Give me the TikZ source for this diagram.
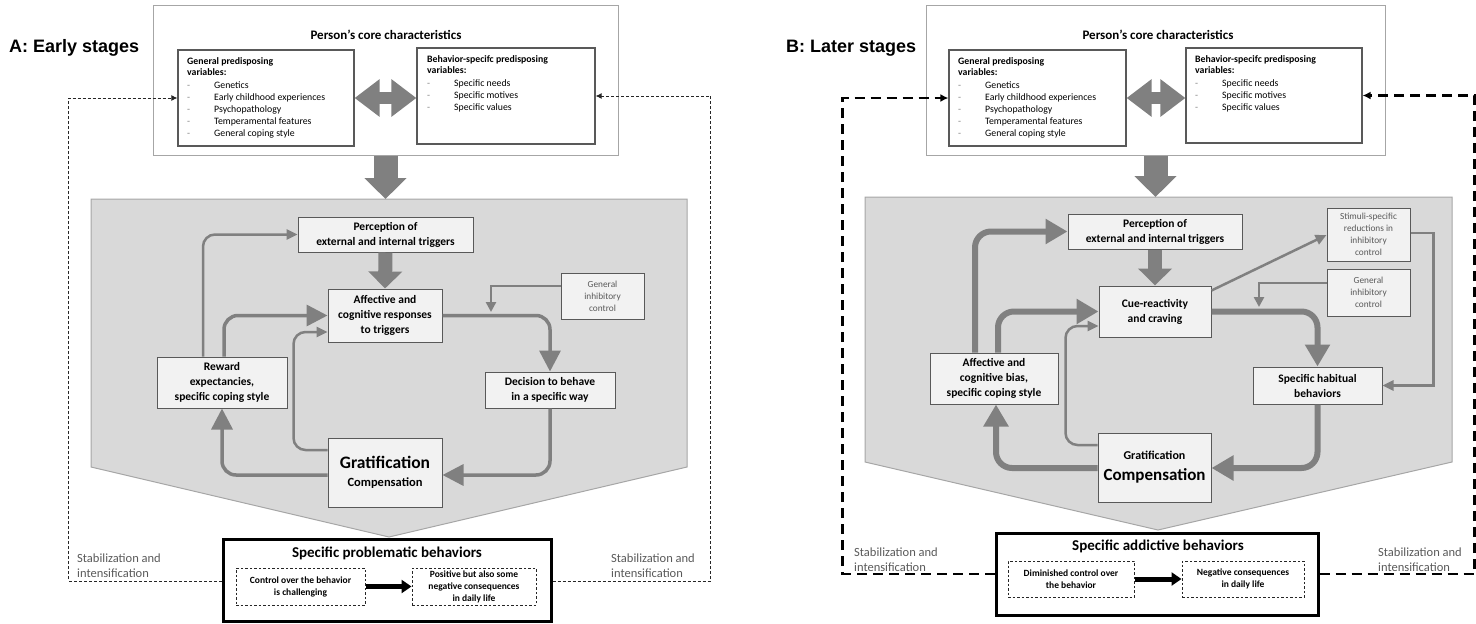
\documentclass[tikz,border=0pt]{standalone}
\usepackage{fontspec}
\setmainfont{Carlito}
\newfontfamily\titlefont{Liberation Sans}
\usetikzlibrary{arrows.meta,calc}
\definecolor{agray}{HTML}{808080}
\definecolor{regfill}{HTML}{D9D9D9}
\definecolor{regdraw}{HTML}{A6A6A6}
\definecolor{boxfill}{HTML}{F2F2F2}
\definecolor{boxdraw}{HTML}{595959}
\definecolor{txtgray}{HTML}{595959}
\newcommand\dashitem{\makebox[27pt][l]{\textcolor{gray}{-}}}
\tikzset{
 panel/.style={font=\titlefont\bfseries\fontsize{18}{20}\selectfont, anchor=west, inner sep=0},
 toptitle/.style={font=\bfseries\fontsize{13}{15}\selectfont, inner sep=0},
 topbox/.style={draw=regdraw, line width=1pt, fill=white, inner sep=0},
 predbox/.style={draw=boxdraw, line width=1.2pt, fill=white, inner sep=0},
 predtext/.style={anchor=north west, inner sep=0, align=left, font=\fontsize{9.8}{12}\selectfont},
 gbox/.style={draw=boxdraw, line width=1pt, fill=boxfill, inner sep=0, align=center, font=\bfseries\fontsize{11.5}{15}\selectfont},
 ctrlbox/.style={draw=boxdraw, line width=1pt, fill=boxfill, inner sep=0, align=center, text=txtgray, font=\fontsize{9.3}{12}\selectfont},
 outbox/.style={draw=black, line width=3pt, fill=white, inner sep=0},
 outtitle/.style={font=\bfseries\fontsize{15}{17}\selectfont, inner sep=0},
 dbox/.style={draw=black!85, dash pattern=on 2.5pt off 2pt, line width=1pt, fill=white, inner sep=0, align=center, font=\bfseries\fontsize{9.5}{12}\selectfont},
 region/.style={fill=regfill, draw=regdraw, line width=1pt},
 blockdown/.style={draw=agray, line width=24pt, -{Triangle[width=41pt,length=21pt]}},
 blockmid/.style={draw=agray, line width=14pt, -{Triangle[width=33pt,length=17pt]}},
 blockdouble/.style={draw=agray, line width=12pt, {Triangle[width=36pt,length=25pt]}-{Triangle[width=36pt,length=25pt]}},
 loopA/.style={draw=agray, line width=3.5pt, rounded corners=14pt, -{Triangle[width=21pt,length=21pt]}},
 thinA/.style={draw=agray, line width=2.5pt, rounded corners=12pt, -{Triangle[width=10pt,length=11pt]}},
 loopB/.style={draw=agray, line width=6pt, rounded corners=16pt, -{Triangle[width=24pt,length=22pt]}},
 thinB/.style={draw=agray, line width=2.5pt, rounded corners=12pt, -{Triangle[width=10pt,length=11pt]}},
 fbA/.style={draw=black!85, line width=1pt, dash pattern=on 3pt off 2pt, -{Latex[length=6pt,width=6pt]}},
 fbB/.style={draw=black, line width=2.5pt, dash pattern=on 10pt off 6pt, -{Latex[length=8pt,width=8pt]}},
 stab/.style={anchor=west, inner sep=0, align=left, text=txtgray, font=\fontsize{12.5}{15}\selectfont},
 blackarrow/.style={draw=black, line width=5pt, -{Triangle[width=13pt,length=10pt]}}
}
\begin{document}
\begin{tikzpicture}[x=1pt,y=-1pt]
\useasboundingbox (0,0) rectangle (1476,624);

% ================= PANEL A =================
\node[panel] (labA) at (9,48) {A: Early stages};
\node[topbox, minimum width=465pt, minimum height=150pt] (topA) at (385.5,80) {};
\node[toptitle] (ttlA) at (386,35) {Person's core characteristics};
\node[predbox, minimum width=176pt, minimum height=96pt] (genA) at (266,98) {};
\node[predtext] (genAt) at (187,57) {\textbf{General predisposing}\\[-1pt]\textbf{variables:}\\[1pt]\dashitem Genetics\\\dashitem Early childhood experiences\\\dashitem Psychopathology\\\dashitem Temperamental features\\\dashitem General coping style};
\node[predbox, minimum width=178pt, minimum height=96pt] (behA) at (506,96) {};
\node[predtext] (behAt) at (427,55) {\textbf{Behavior-specifc predisposing}\\[-1pt]\textbf{variables:}\\[1pt]\dashitem Specific needs\\\dashitem Specific motives\\\dashitem Specific values};
\draw[blockdouble] (genA.east) -- (genA.east -| behA.west);

\draw[region] (91,199) -- (687,199) -- (687,467) -- (389,537) -- (91,467) -- cycle;
\coordinate (rAtop) at (385.5,199);
\draw[blockdown] (topA.south) -- (rAtop);

\node[gbox, minimum width=175pt, minimum height=35pt] (percA) at (385.5,234.5) {Perception of\\external and internal triggers};
\node[gbox, minimum width=114pt, minimum height=53pt] (affA) at (385,315.5) {Affective and\\cognitive responses\\to triggers};
\node[ctrlbox, minimum width=83pt, minimum height=46pt] (gicA) at (602.5,296) {General\\inhibitory\\control};
\node[gbox, minimum width=130pt, minimum height=36pt] (decA) at (550,390) {Decision to behave\\in a specific way};
\node[gbox, minimum width=130pt, minimum height=51pt] (rewA) at (222,382.5) {Reward\\expectancies,\\specific coping style};
\node[gbox, minimum width=114pt, minimum height=69pt] (gratA) at (385,472.5) {{\fontsize{17.5}{19}\selectfont Gratification}\\[3pt]{\fontsize{12.5}{14}\selectfont Compensation}};

\draw[blockmid] (percA.south) -- (affA.north);
\draw[thinA] ($(rewA.north)+(-19,0)$) |- (percA.west);
\draw[loopA] ($(rewA.north)+(2,0)$) |- (affA.west);
\draw[loopA] (affA.east) -| (decA.north);
\coordinate (inhA) at (491,312);
\draw[thinA, rounded corners=0pt, -{Triangle[width=10pt,length=10pt]}] ($(gicA.west)+(0,-10)$) -| (inhA);
\draw[loopA] (decA.south) |- ($(gratA.east)+(0,2.5)$);
\draw[loopA] ($(gratA.west)+(0,2.5)$) -| (rewA.south);
\draw[thinA] ($(gratA.west)+(0,-22.5)$) -| ($(affA.west)+(-34,16.5)$) -- ($(affA.west)+(0,16.5)$);

\node[outbox, minimum width=328pt, minimum height=82pt] (outA) at (387,580) {};
\node[outtitle] (outAt) at (387,553) {Specific problematic behaviors};
\node[dbox, minimum width=129pt, minimum height=37pt] (ctlA) at (300.5,586.5) {Control over the behavior\\is challenging};
\node[dbox, minimum width=124pt, minimum height=37pt] (posA) at (474,586.5) {Positive but also some\\negative consequences\\in daily life};
\draw[blackarrow] (ctlA.east) -- (posA.west);

\draw[fbA] ($(outA.west)+(0,1)$) -- ++(-153,0) |- (genA.west);
\draw[fbA] ($(outA.east)+(0,1)$) -- ++(158,0) |- (behA.east);
\node[stab] (stA1) at (77,565.5) {Stabilization and\\intensification};
\node[stab] (stA2) at (611,565.5) {Stabilization and\\intensification};

% ================= PANEL B =================
\node[panel] (labB) at (786,48) {B: Later stages};
\node[topbox, minimum width=459pt, minimum height=150pt] (topB) at (1155.5,80) {};
\node[toptitle] (ttlB) at (1158,35) {Person's core characteristics};
\node[predbox, minimum width=177pt, minimum height=96pt] (genB) at (1037.5,98) {};
\node[predtext] (genBt) at (958,57) {\textbf{General predisposing}\\[-1pt]\textbf{variables:}\\[1pt]\dashitem Genetics\\\dashitem Early childhood experiences\\\dashitem Psychopathology\\\dashitem Temperamental features\\\dashitem General coping style};
\node[predbox, minimum width=176pt, minimum height=95pt] (behB) at (1274,95.5) {};
\node[predtext] (behBt) at (1195,55) {\textbf{Behavior-specifc predisposing}\\[-1pt]\textbf{variables:}\\[1pt]\dashitem Specific needs\\\dashitem Specific motives\\\dashitem Specific values};
\draw[blockdouble] (genB.east) -- (genB.east -| behB.west);

\draw[region] (865,197) -- (1452,197) -- (1452,462) -- (1158,530) -- (865,462) -- cycle;
\coordinate (rBtop) at (1155.5,197);
\draw[blockdown] (topB.south) -- (rBtop);

\node[gbox, minimum width=174pt, minimum height=35pt] (percB) at (1155,231.5) {Perception of\\external and internal triggers};
\node[gbox, minimum width=112pt, minimum height=51pt] (cueB) at (1155,311.5) {Cue-reactivity\\and craving};
\node[ctrlbox, minimum width=83pt, minimum height=53pt] (stimB) at (1368.5,234.5) {Stimuli-specific\\reductions in\\inhibitory\\control};
\node[ctrlbox, minimum width=83pt, minimum height=47pt] (gicB) at (1368.5,292.5) {General\\inhibitory\\control};
\node[gbox, minimum width=129pt, minimum height=37pt] (habB) at (1317.5,385.5) {Specific habitual\\behaviors};
\node[gbox, minimum width=128pt, minimum height=51pt] (biasB) at (994,378.5) {Affective and\\cognitive bias,\\specific coping style};
\node[gbox, minimum width=113pt, minimum height=69pt] (gratB) at (1154.5,467.5) {{\fontsize{12}{13}\selectfont Gratification}\\[6pt]{\fontsize{17}{19}\selectfont Compensation}};

\draw[blockmid] (percB.south) -- (cueB.north);
\draw[loopB] ($(biasB.north)+(-19,0)$) |- (percB.west);
\draw[loopB] ($(biasB.north)+(4,0)$) |- (cueB.west);
\draw[loopB] (cueB.east) -| (habB.north);
\draw[thinB, rounded corners=0pt] ($(cueB.east)+(0,-21)$) -- ($(stimB.west)+(0,0.5)$);
\draw[thinB, rounded corners=0pt] ($(stimB.east)+(0,-1.5)$) -- ++(23,0) |- (habB.east);
\coordinate (inhB) at (1259,307);
\draw[thinB, rounded corners=0pt, -{Triangle[width=10pt,length=10pt]}] ($(gicB.west)+(0,-9.5)$) -| (inhB);
\draw[loopB] (habB.south) |- ($(gratB.east)+(0,0.5)$);
\draw[loopB] ($(gratB.west)+(0,0.5)$) -| ($(biasB.south)+(2,0)$);
\draw[thinB] ($(gratB.west)+(0,-22.5)$) -| ($(cueB.west)+(-33,14.5)$) -- ($(cueB.west)+(0,14.5)$);

\node[outbox, minimum width=322pt, minimum height=82pt] (outB) at (1157,574) {};
\node[outtitle] (outBt) at (1158,546) {Specific addictive behaviors};
\node[dbox, minimum width=126pt, minimum height=36pt] (dimB) at (1071,579) {Diminished control over\\the behavior};
\node[dbox, minimum width=122pt, minimum height=36pt] (negB) at (1243,579) {Negative consequences\\in daily life};
\draw[blackarrow] (dimB.east) -- (negB.west);

\draw[fbB] (outB.west) -- ++(-152,0) |- (genB.west);
\draw[fbB] (outB.east) -- ++(155,0) |- (behB.east);
\node[stab] (stB1) at (854,559.5) {Stabilization and\\intensification};
\node[stab] (stB2) at (1378,559.5) {Stabilization and\\intensification};
\end{tikzpicture}
\end{document}
